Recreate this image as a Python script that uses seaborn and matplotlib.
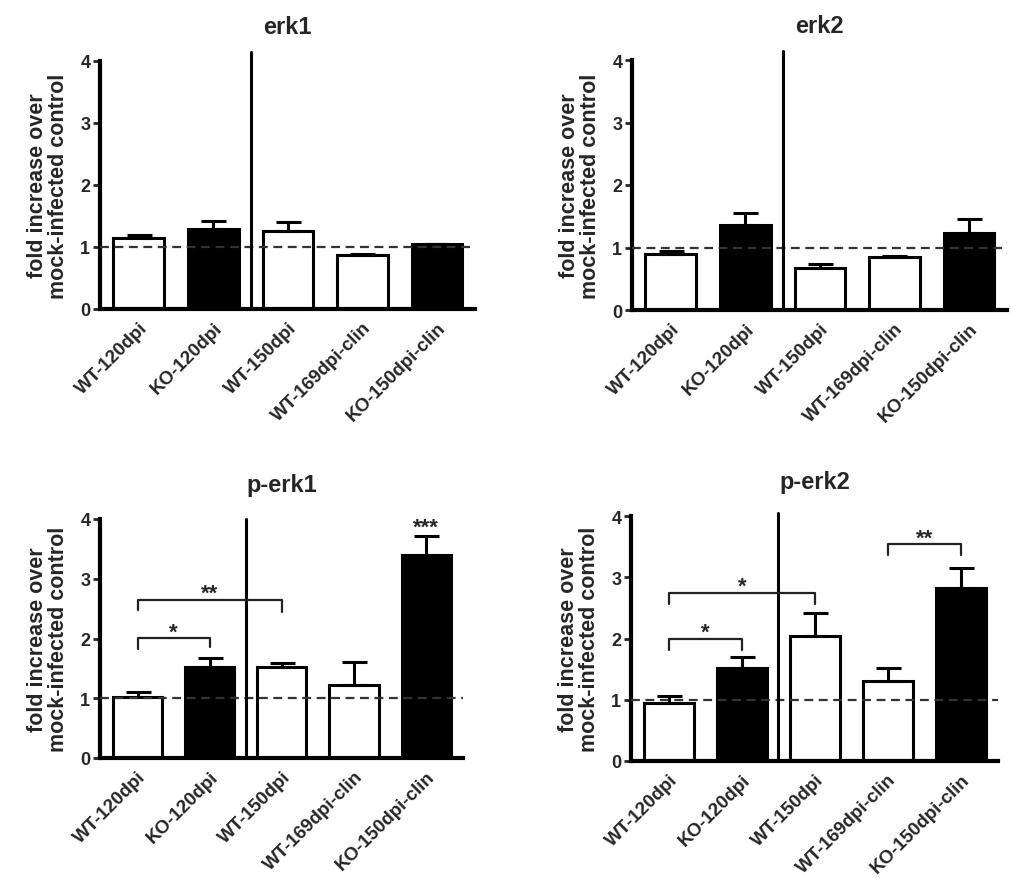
import matplotlib
matplotlib.use("Agg")
import matplotlib.pyplot as plt
import seaborn as sns
import numpy as np

sns.set_theme(style="white")
plt.rcParams['font.family'] = ['Liberation Sans', 'DejaVu Sans']

categories = ["WT-120dpi", "KO-120dpi", "WT-150dpi", "WT-169dpi-clin", "KO-150dpi-clin"]
bar_colors = ["white", "black", "white", "white", "black"]

erk1_mean = [1.14, 1.29, 1.26, 0.875, 1.05]
erk1_err = [0.05, 0.13, 0.14, 0.01, 0.0]
erk2_mean = [0.89, 1.36, 0.68, 0.85, 1.24]
erk2_err = [0.06, 0.20, 0.05, 0.02, 0.22]
perk1_mean = [1.02, 1.52, 1.53, 1.23, 3.39]
perk1_err = [0.08, 0.16, 0.06, 0.37, 0.32]
perk2_mean = [0.94, 1.52, 2.04, 1.30, 2.82]
perk2_err = [0.12, 0.17, 0.37, 0.22, 0.33]

# brackets: (i, j, y, left tick bottom, right tick bottom, label)
perk1_brackets = [(0, 1, 2.01, 1.83, 1.85, "*"), (0, 2, 2.65, 2.47, 2.44, "**")]
perk2_brackets = [(0, 1, 2.00, 1.82, 1.82, "*"), (0, 2, 2.75, 2.56, 2.56, "*"),
                  (3, 4, 3.54, 3.37, 3.37, "**")]
perk1_stars = [(4, 3.97, "***")]

panels = [
    ("erk1", erk1_mean, erk1_err, [100, 475, 310, 62], [], [], 4.15),
    ("erk2", erk2_mean, erk2_err, [632, 1007, 311, 61], [], [], 4.15),
    ("p-erk1", perk1_mean, perk1_err, [100, 463, 759, 520], perk1_brackets, perk1_stars, 4.0),
    ("p-erk2", perk2_mean, perk2_err, [631, 998, 762, 517], perk2_brackets, [], 4.05),
]

W, H = 1011, 879
fig = plt.figure(figsize=(W / 100, H / 100), dpi=100)

for title, mean, err, (l, r, b, t), brackets, stars, vtop in panels:
    ax = fig.add_axes([l / W, 1 - b / H, (r - l) / W, (b - t) / H])
    sns.barplot(x=categories, y=mean, hue=categories, palette=bar_colors,
                edgecolor="black", linewidth=2.2, width=0.68, legend=False,
                ax=ax, saturation=1)
    x = np.arange(len(categories))
    ax.errorbar(x, mean, yerr=[np.zeros(len(mean)), err], fmt="none",
                ecolor="black", elinewidth=2.2, capsize=9, capthick=2.2, zorder=3)
    ax.set_xlim(-0.52, 4.51)
    ax.set_ylim(0, 4)
    ax.axhline(1, color="#333333", linestyle=(0, (4, 2.5)), linewidth=1.6, zorder=4)
    ax.plot([1.5, 1.5], [0, vtop], color="black", linewidth=2.2, clip_on=False, zorder=5)
    for i, j, y, yl, yr, lab in brackets:
        ax.plot([i, i, j, j], [yl, y, y, yr], color="#222222", linewidth=1.6, zorder=5)
        ax.text((i + j) / 2, y + 0.10, lab, ha="center", va="center",
                fontsize=16, fontweight="bold")
    for i, y, lab in stars:
        ax.text(i, y - 0.1, lab, ha="center", va="center", fontsize=16,
                fontweight="bold", clip_on=False)
    for side in ["top", "right"]:
        ax.spines[side].set_visible(False)
    for side in ["left", "bottom"]:
        ax.spines[side].set_linewidth(3)
        ax.spines[side].set_color("black")
    ax.set_yticks([0, 1, 2, 3, 4])
    ax.tick_params(axis="y", length=5, width=2, direction="out", left=True,
                   labelsize=13, pad=2)
    ax.tick_params(axis="x", length=0, pad=7)
    for lab in ax.get_yticklabels():
        lab.set_fontweight("bold")
    ax.set_xticks(x)
    ax.set_xticklabels(categories, rotation=45, ha="right", rotation_mode="anchor",
                       fontsize=13.5, fontweight="bold")
    ax.set_ylabel("fold increase over\nmock-infected control", fontsize=15.5,
                  fontweight="bold", labelpad=8, linespacing=1.0)
    ax.set_xlabel("")
    ax.set_title(title, fontsize=17, fontweight="bold", pad=20)

fig.savefig("out.png", dpi=100, facecolor="white")
